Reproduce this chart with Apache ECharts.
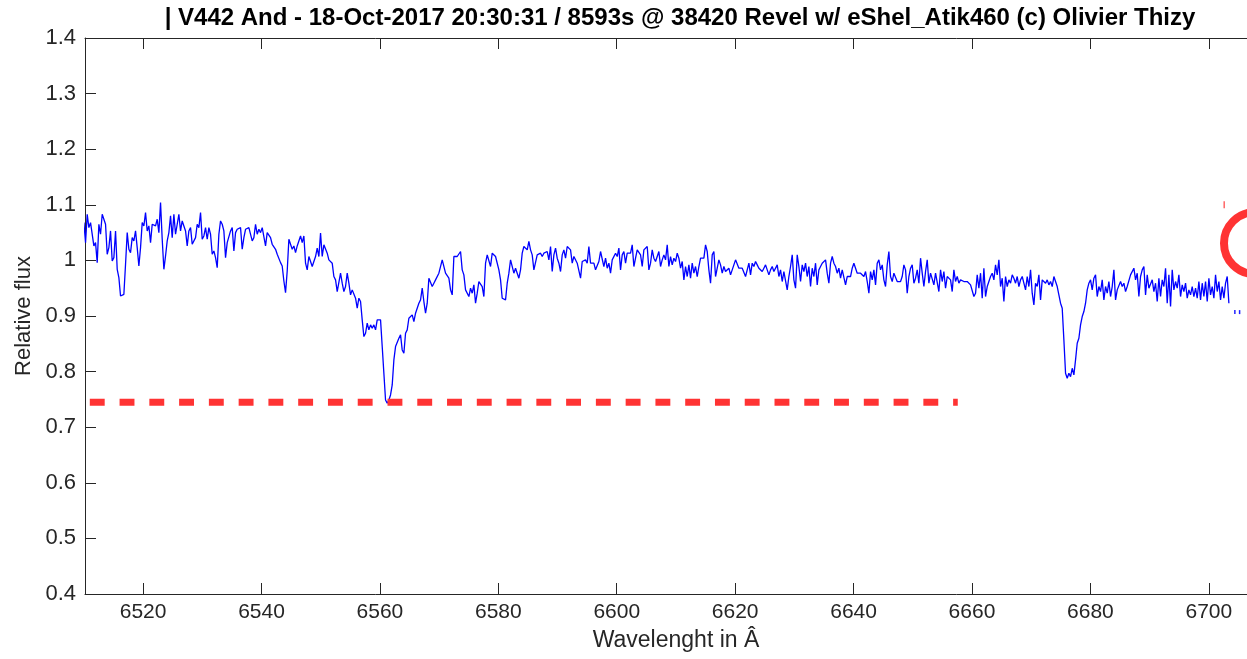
<!DOCTYPE html>
<html>
<head>
<meta charset="utf-8">
<title>V442 And spectrum</title>
<script src="https://cdn.jsdelivr.net/npm/echarts@6/dist/echarts.min.js"></script>
<style>
  html, body { margin: 0; padding: 0; background: #ffffff; }
  #chart { width: 1247px; height: 659px; }
</style>
</head>
<body>
<div id="chart"></div>
<script>
// Spectrum sampling (FITS-style linear dispersion)
const crval1 = 6510.0;   // first wavelength, Angstrom
const cdelt1 = 0.2815;   // step, Angstrom per sample

// Relative flux, one value per sample
const flux = [
  1.068, 1.032, 1.083, 1.059, 1.068, 1.065, 1.026, 1.032, 0.996, 1.065,
  1.047, 1.083, 1.086, 1.065, 1.011, 1.023, 1.053, 0.999, 1.005, 1.053,
  0.984, 0.969, 0.936, 0.933, 0.939, 0.993, 1.050, 1.020, 1.014, 1.041,
  1.035, 1.053, 1.023, 0.990, 1.023, 1.068, 1.062, 1.086, 1.053, 1.062,
  1.032, 1.065, 1.065, 1.062, 1.074, 1.050, 1.104, 1.038, 0.984, 1.008,
  1.035, 1.050, 1.080, 1.041, 1.083, 1.047, 1.065, 1.083, 1.053, 1.071,
  1.071, 1.053, 1.026, 1.053, 1.059, 1.029, 1.026, 1.041, 1.065, 1.059,
  1.086, 1.038, 1.044, 1.059, 1.038, 1.059, 1.047, 1.011, 1.017, 1.005,
  0.987, 1.047, 1.071, 1.065, 1.053, 1.005, 1.032, 1.029, 1.053, 1.059,
  1.017, 1.050, 1.056, 1.053, 1.059, 1.020, 1.041, 1.056, 1.059, 1.059,
  1.056, 1.035, 1.041, 1.065, 1.047, 1.056, 1.050, 1.059, 1.056, 1.026,
  1.050, 1.053, 1.041, 1.029, 1.032, 1.020, 1.011, 1.008, 0.996, 0.990,
  0.963, 0.942, 0.981, 1.038, 1.041, 1.020, 1.026, 1.014, 1.026, 1.023,
  1.044, 1.032, 1.044,
  0.995, 0.983, 1.007, 1.004, 0.989, 0.989, 1.007, 1.022, 1.007, 1.049,
  1.007, 1.028, 1.025, 1.013, 1.001, 0.998, 0.995, 0.971, 0.965, 0.944,
  0.941, 0.977, 0.959, 0.944, 0.953, 0.977, 0.959, 0.938, 0.947, 0.950,
  0.932, 0.914, 0.932, 0.926, 0.893, 0.863, 0.869, 0.887, 0.875, 0.884,
  0.878, 0.884, 0.875, 0.893, 0.896, 0.893, 0.845, 0.797, 0.749, 0.743,
  0.749, 0.758, 0.776, 0.821, 0.845, 0.848, 0.860, 0.866, 0.839, 0.833,
  0.869, 0.875, 0.896, 0.893, 0.902, 0.890, 0.905, 0.908, 0.923, 0.929,
  0.950, 0.926, 0.905, 0.923, 0.968, 0.971, 0.953, 0.959, 0.965, 0.965,
  0.977, 0.974, 1.001, 0.998, 0.977, 0.977, 0.968, 0.947, 0.938, 1.007,
  1.007, 1.007, 1.007, 1.016, 0.983, 0.974, 0.947, 0.944, 0.935, 0.950,
  0.941, 0.956, 0.923, 0.941, 0.962, 0.962, 0.953, 0.935, 0.995, 1.010,
  1.007, 0.989, 1.013, 1.010, 1.007, 1.004, 0.983, 0.965, 0.932, 0.932,
  0.929, 0.959, 0.977, 1.001, 0.998, 0.977, 0.986, 0.977, 0.968, 0.983,
  1.013, 1.025, 1.028, 1.019, 1.034, 1.019, 1.010, 0.983, 0.986, 1.010,
  1.007, 1.013, 1.007, 1.013, 1.010, 1.016, 1.001, 1.025, 0.980, 1.010,
  1.022, 1.004, 0.995, 0.980, 1.010, 1.019, 1.004, 1.025, 1.025, 1.019,
  0.995, 1.007, 1.010, 0.995, 0.995, 0.968, 0.998, 0.995, 1.001, 0.995,
  1.025, 0.995, 0.998, 0.995, 0.983, 0.980, 0.998, 1.016, 1.013, 0.989,
  1.004, 0.986, 0.995, 0.977, 1.001, 0.998, 1.013, 1.007, 1.022, 0.983,
  1.010, 1.016, 0.995, 1.013, 1.010, 1.013, 1.028, 0.989, 1.004, 1.019,
  1.022, 1.010, 0.989, 1.019, 1.022, 1.025, 0.983, 0.995, 1.019, 1.004,
  0.998, 1.007, 1.016, 0.989, 1.001, 1.010, 1.001, 1.028, 0.989, 1.007,
  0.992, 1.004, 0.998, 1.013, 1.004, 0.986, 0.998, 0.965, 0.989, 0.971,
  0.992, 0.968, 0.995, 0.977, 0.989, 0.971, 0.989, 1.004, 1.007, 1.004,
  1.028, 1.016, 0.983, 0.959, 1.010, 1.016, 0.971, 0.986, 1.001, 0.992,
  0.977, 0.989, 0.980, 0.983, 0.986, 0.974, 0.983, 0.980, 1.001, 1.004,
  0.986, 0.983, 0.986, 0.983, 0.971, 0.983, 0.995, 0.974, 0.995, 0.989,
  0.998, 0.992, 0.986, 0.989,
  0.980, 0.986, 0.992, 0.995, 0.974, 0.983, 0.989, 0.980, 0.977, 0.992,
  0.971, 0.983, 0.962, 0.980, 0.983, 0.947, 0.971, 0.989, 1.010, 0.965,
  0.950, 1.010, 0.989, 0.962, 0.992, 0.980, 0.995, 0.971, 0.989, 0.953,
  0.986, 0.971, 0.995, 0.956, 0.983, 0.989, 0.995, 0.992, 1.001, 0.977,
  0.959, 0.995, 1.007, 0.995, 0.989, 0.977, 0.986, 0.968, 0.983, 0.980,
  0.956, 0.971, 0.974, 0.971, 0.986, 0.995, 0.992, 0.977, 0.980, 0.977,
  0.977, 0.971, 0.980, 0.962, 0.941, 0.980, 0.965, 0.983, 0.956, 0.995,
  1.001, 0.983, 0.992, 0.965, 0.953, 0.992, 1.016, 0.971, 0.962, 0.977,
  0.980, 0.962, 0.965, 0.962, 0.971, 0.992, 0.983, 0.941, 0.971, 0.986,
  0.992, 0.959, 0.968, 0.983, 0.959, 1.004, 0.977, 0.953, 0.980, 1.001,
  0.959, 0.977, 0.980, 0.956, 0.977, 0.974, 0.944, 0.983, 0.962, 0.980,
  0.950, 0.971, 0.971, 0.965, 0.944, 0.983, 0.962, 0.971, 0.959, 0.965,
  0.962, 0.962, 0.962, 0.962, 0.959, 0.956, 0.953, 0.935, 0.941, 0.974,
  0.950, 0.977, 0.932, 0.986, 0.935, 0.953, 0.962, 0.971, 0.977, 0.965,
  0.992, 0.974, 1.001, 0.953,
  0.968, 0.926, 0.971, 0.953, 0.965, 0.959, 0.974, 0.968, 0.959, 0.971,
  0.953, 0.965, 0.971, 0.959, 0.947, 0.971, 0.953, 0.983, 0.941, 0.920,
  0.959, 0.953, 0.974, 0.929, 0.965, 0.962, 0.959, 0.965, 0.956, 0.962,
  0.953, 0.971, 0.968, 0.953, 0.938, 0.923, 0.914, 0.857, 0.797, 0.788,
  0.797, 0.791, 0.806, 0.794, 0.821, 0.851, 0.860, 0.884, 0.899, 0.908,
  0.923, 0.947, 0.959, 0.965, 0.947, 0.968, 0.974, 0.935, 0.953, 0.944,
  0.965, 0.929, 0.953, 0.941, 0.962, 0.935, 0.953, 0.983, 0.929, 0.947,
  0.944, 0.962, 0.953, 0.959, 0.944, 0.953, 0.953, 0.974, 0.977, 0.986,
  0.965, 0.977, 0.935, 0.971, 0.983, 0.989, 0.938, 0.974, 0.950, 0.953,
  0.965, 0.944, 0.959, 0.926, 0.968, 0.935, 0.965, 0.953, 0.986, 0.923,
  0.974, 0.917, 0.983, 0.947, 0.962, 0.950, 0.974, 0.935, 0.956, 0.944,
  0.959, 0.932, 0.947, 0.938, 0.953, 0.935, 0.950, 0.932, 0.962, 0.929,
  0.959, 0.935, 0.962, 0.926, 0.968, 0.938, 0.953, 0.932, 0.974, 0.944,
  0.962, 0.929, 0.953, 0.932, 0.959, 0.971, 0.923
];

// Horizontal reference level drawn as a thick dashed segment
const refLevel = 0.745;
const refSpan = [6511.0, 6657.6];

// Stray marks near the right edge of the plot
const edgeCircle = [[6707.8, 1.031]];
const edgeRedTick = [[6702.6, 1.100]];
const edgeBlueTicks = [[6704.4, 0.907], [6705.2, 0.907]];

// Axis ranges and ticks
const xMin = 6510.19, xMax = 6706.45;
const xTicks = [6520, 6540, 6560, 6580, 6600, 6620, 6640, 6660, 6680, 6700];
const yMin = 0.4, yMax = 1.4, yStep = 0.1;

const titleText = '| V442 And - 18-Oct-2017 20:30:31 / 8593s @ 38420 Revel w/ eShel_Atik460 (c) Olivier Thizy';
const xName = 'Wavelenght in \u00C2';
const yName = 'Relative flux';

const FONT = '"Liberation Sans", Arial, Helvetica, sans-serif';
const AXIS_COLOR = '#262626';

const spectrum = flux.map((f, i) => [crval1 + i * cdelt1, f]);
const refLine = refSpan.map(w => [w, refLevel]);

const chart = echarts.init(document.getElementById('chart'), null, { renderer: 'canvas' });

const commonX = {
  type: 'value',
  min: xMin,
  max: xMax,
  splitLine: { show: false },
  axisLine: { show: true, onZero: false, lineStyle: { color: AXIS_COLOR, width: 1 } },
  axisTick: { show: true, inside: true, length: 11, customValues: xTicks, lineStyle: { color: AXIS_COLOR, width: 1 } }
};

chart.setOption({
  animation: false,
  backgroundColor: '#ffffff',
  grid: { left: 85, top: 38, right: 0, bottom: 65, containLabel: false },
  xAxis: [
    Object.assign({}, commonX, {
      position: 'bottom',
      axisLabel: {
        show: true, customValues: xTicks, fontFamily: FONT, fontSize: 21,
        color: AXIS_COLOR, margin: 8, formatter: v => String(v)
      }
    }),
    Object.assign({}, commonX, {
      position: 'top',
      axisLabel: { show: false }
    })
  ],
  yAxis: {
    type: 'value',
    min: yMin,
    max: yMax,
    interval: yStep,
    splitLine: { show: false },
    axisLine: { show: true, onZero: false, lineStyle: { color: AXIS_COLOR, width: 1 } },
    axisTick: { show: true, inside: true, length: 11, lineStyle: { color: AXIS_COLOR, width: 1 } },
    axisLabel: { fontFamily: FONT, fontSize: 22, color: AXIS_COLOR, margin: 9 },
    name: yName,
    nameLocation: 'middle',
    nameRotate: 90,
    nameGap: 50,
    nameTextStyle: { fontFamily: FONT, fontSize: 22, color: AXIS_COLOR }
  },
  series: [
    {
      type: 'line',
      data: spectrum,
      showSymbol: false,
      clip: true,
      lineStyle: { color: '#0000ff', width: 1.3 },
      z: 3
    },
    {
      type: 'line',
      data: refLine,
      showSymbol: false,
      lineStyle: { color: '#ff3333', width: 7, type: [14.9, 14.87], cap: 'butt' },
      z: 4
    },
    {
      type: 'scatter',
      data: edgeCircle,
      clip: false,
      symbol: 'circle',
      symbolSize: 62,
      itemStyle: { color: 'rgba(0,0,0,0)', borderColor: '#ff3333', borderWidth: 8, opacity: 1 },
      z: 4
    },
    {
      type: 'scatter',
      data: edgeRedTick,
      clip: false,
      symbol: 'rect',
      symbolSize: [1.5, 7],
      itemStyle: { color: '#ff6666', opacity: 1 },
      z: 4
    },
    {
      type: 'scatter',
      data: edgeBlueTicks,
      clip: false,
      symbol: 'rect',
      symbolSize: [1.5, 4],
      itemStyle: { color: '#2222ff', opacity: 1 },
      z: 4
    }
  ],
  graphic: [
    {
      type: 'text',
      x: 680,
      y: 18,
      style: {
        text: titleText,
        font: 'bold 24px ' + FONT,
        fill: '#000000',
        align: 'center',
        verticalAlign: 'middle'
      }
    },
    {
      type: 'text',
      x: 676,
      y: 641,
      style: {
        text: xName,
        font: '23px ' + FONT,
        fill: AXIS_COLOR,
        align: 'center',
        verticalAlign: 'middle'
      }
    }
  ]
});
</script>
</body>
</html>
